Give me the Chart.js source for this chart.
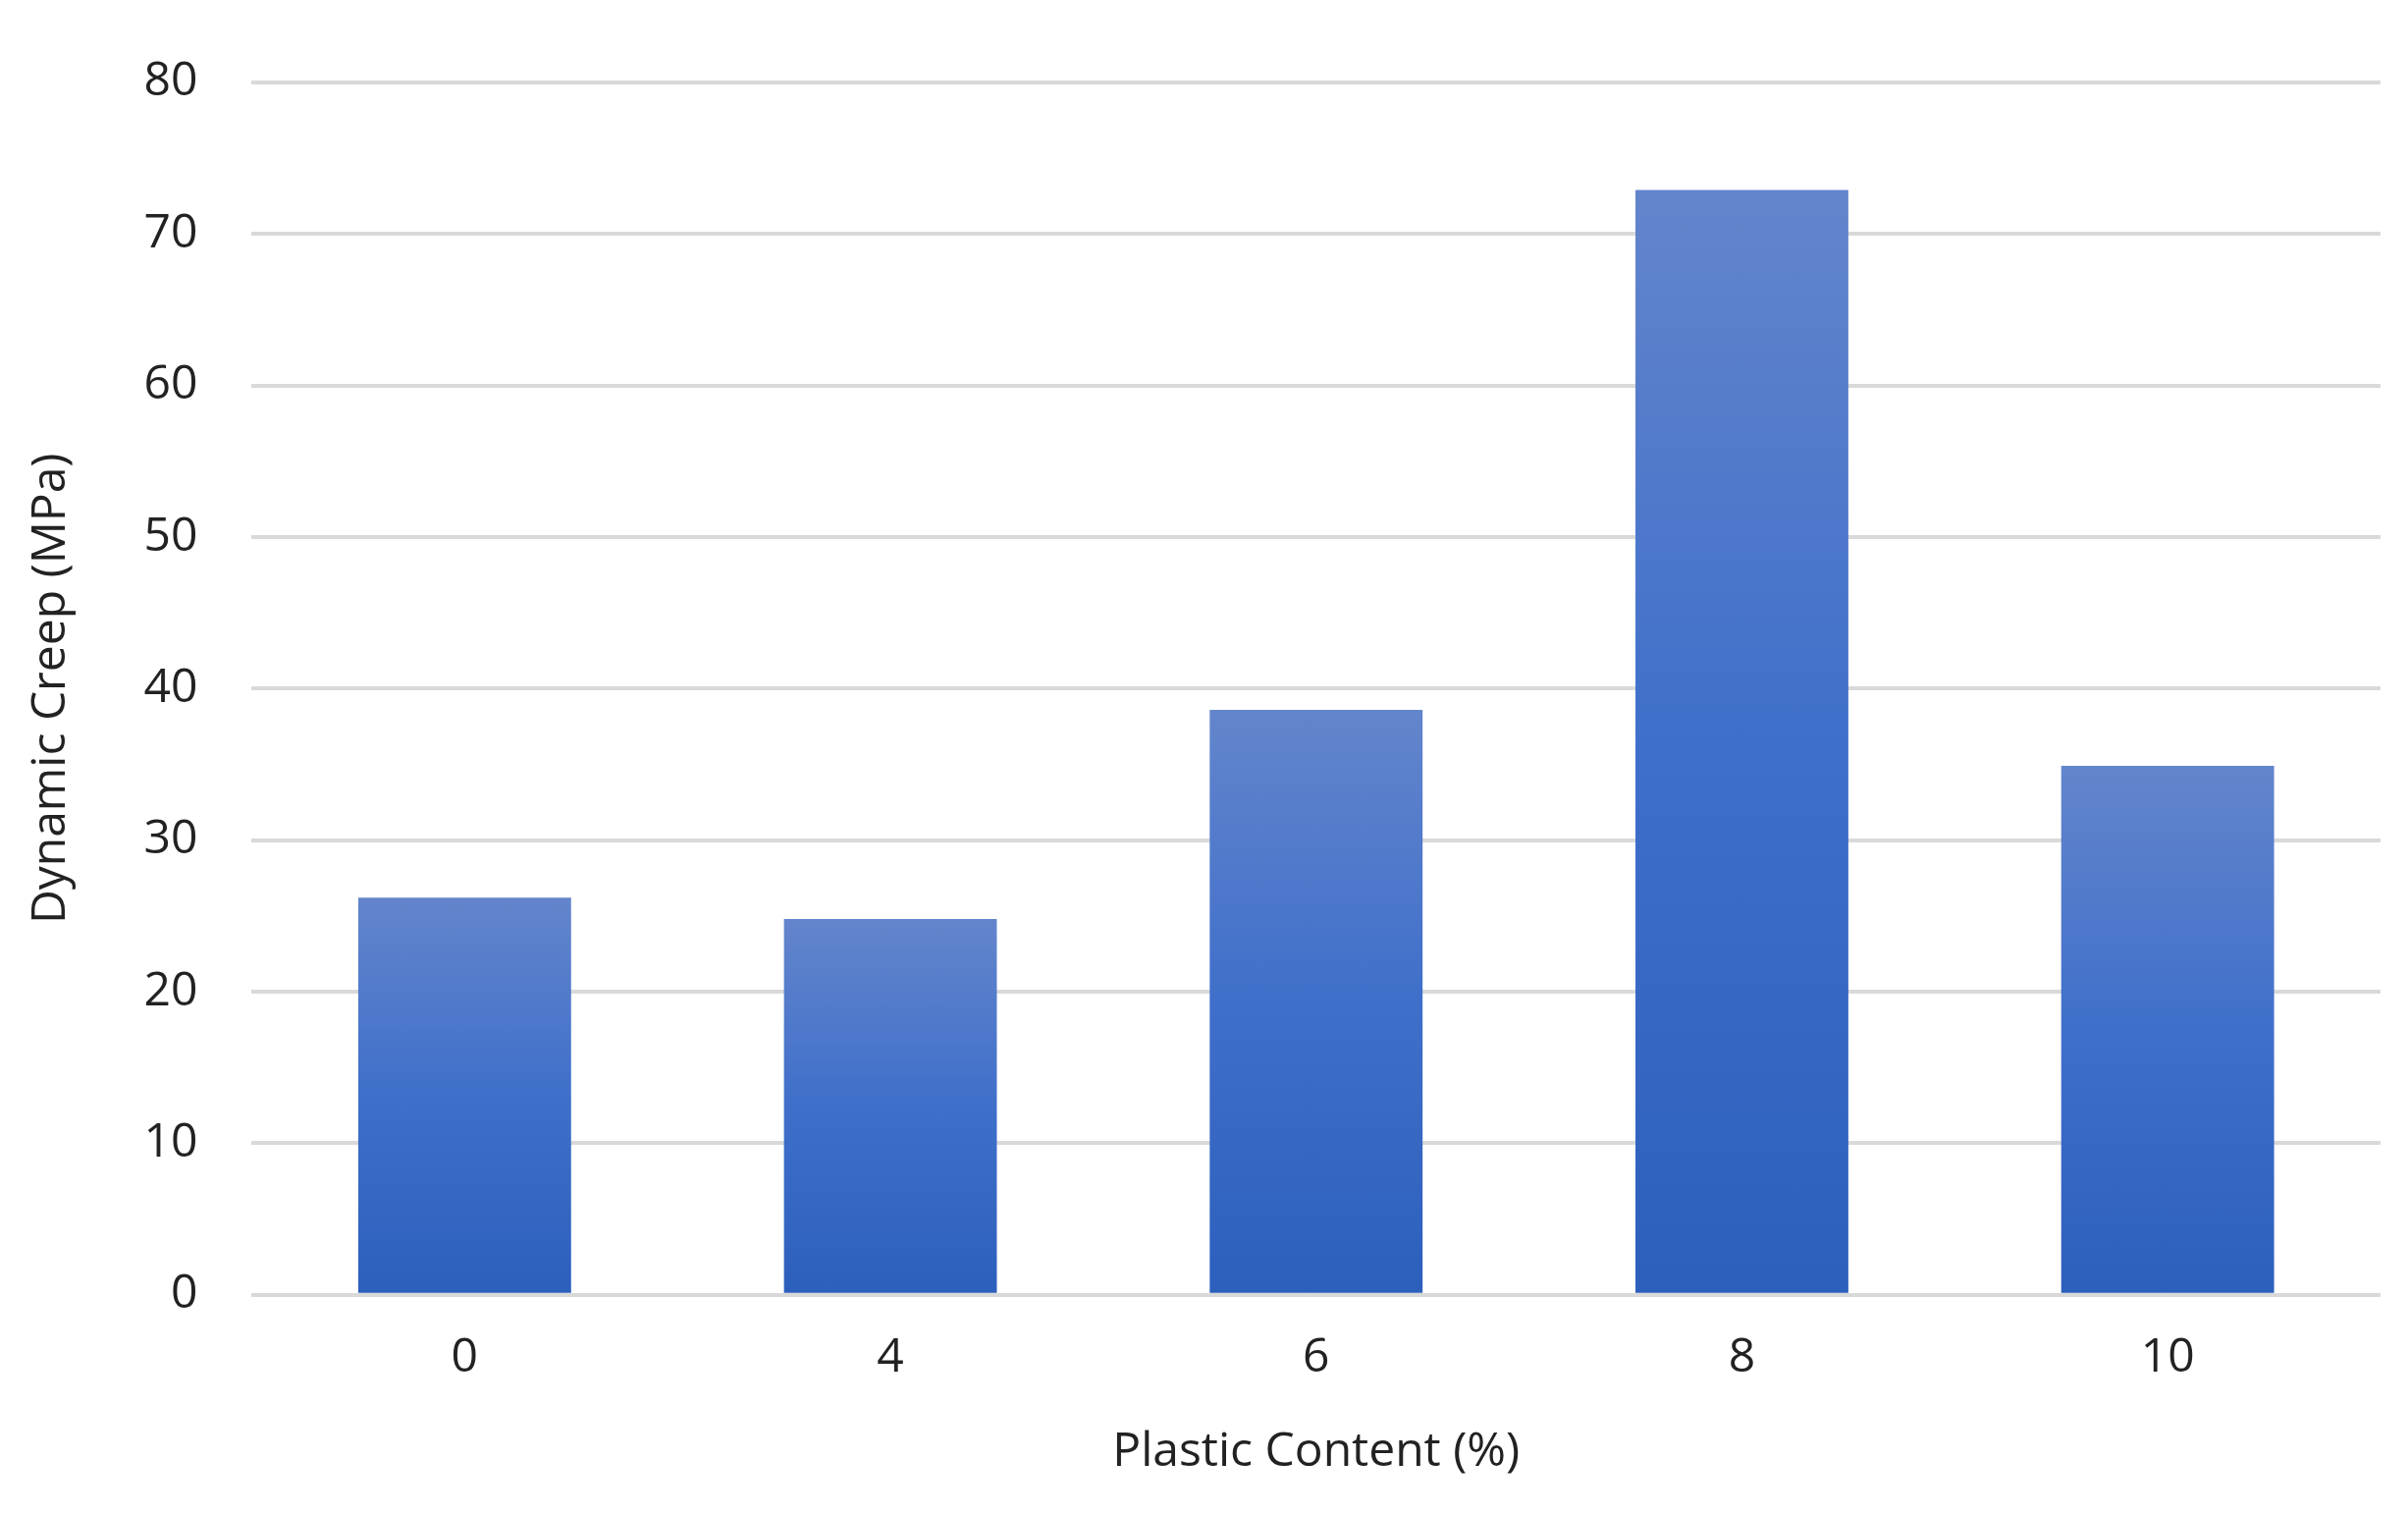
<!DOCTYPE html>
<html lang="en">
<head>
    <meta charset="UTF-8">
    <title>Dynamic Creep</title>
    <script src="https://cdn.jsdelivr.net/npm/chart.js@4.4.0/dist/chart.umd.min.js"></script>
    <style>
        html, body { margin: 0; padding: 0; background: #fff; }
        #wrap { width: 2453px; height: 1542px; }
    </style>
</head>
<body>
<div id="wrap"><canvas id="chart"></canvas></div>
<script>
const categories = ['0', '4', '6', '8', '10'];
const creepValues = [26.2, 24.8, 38.6, 72.9, 34.9];
const yTicks = [0, 10, 20, 30, 40, 50, 60, 70, 80];

const font = '"Open Sans", "Liberation Sans", sans-serif';

// vertical gradient per bar, light at top, darker at base
function barFill(context) {
    const chart = context.chart;
    const yScale = chart.scales.y;
    if (!yScale || context.dataIndex === undefined) return '#3f6cc6';
    const top = yScale.getPixelForValue(creepValues[context.dataIndex]);
    const base = yScale.getPixelForValue(0);
    if (!isFinite(top) || !isFinite(base)) return '#3f6cc6';
    const g = chart.ctx.createLinearGradient(0, top, 0, base);
    g.addColorStop(0, '#6385cc');
    g.addColorStop(0.5, '#3f6fca');
    g.addColorStop(1, '#2c5fbc');
    return g;
}

new Chart(document.getElementById('chart'), {
    type: 'bar',
    data: {
        labels: categories,
        datasets: [{
            data: creepValues,
            backgroundColor: barFill,
            barPercentage: 0.5,
            categoryPercentage: 1
        }]
    },
    options: {
        responsive: true,
        maintainAspectRatio: false,
        animation: false,
        layout: { padding: { left: 20, right: 28, top: 40, bottom: 30 } },
        plugins: { legend: { display: false }, tooltip: { enabled: false } },
        scales: {
            x: {
                grid: { display: false },
                border: { display: false },
                ticks: { color: '#222', font: { family: font, size: 48 }, padding: 28 },
                title: { display: true, text: 'Plastic Content (%)', color: '#222', font: { family: font, size: 48 }, padding: { top: 10 } }
            },
            y: {
                min: 0,
                max: 80,
                afterBuildTicks: axis => { axis.ticks = yTicks.map(v => ({ value: v })); },
                grid: { color: '#d9d9d9', lineWidth: 4, drawTicks: false },
                border: { display: false },
                ticks: { color: '#222', font: { family: font, size: 48 }, padding: 55 },
                title: { display: true, text: 'Dynamic Creep (MPa)', color: '#222', font: { family: font, size: 48 }, padding: { bottom: 10 } }
            }
        }
    }
});
</script>
</body>
</html>
